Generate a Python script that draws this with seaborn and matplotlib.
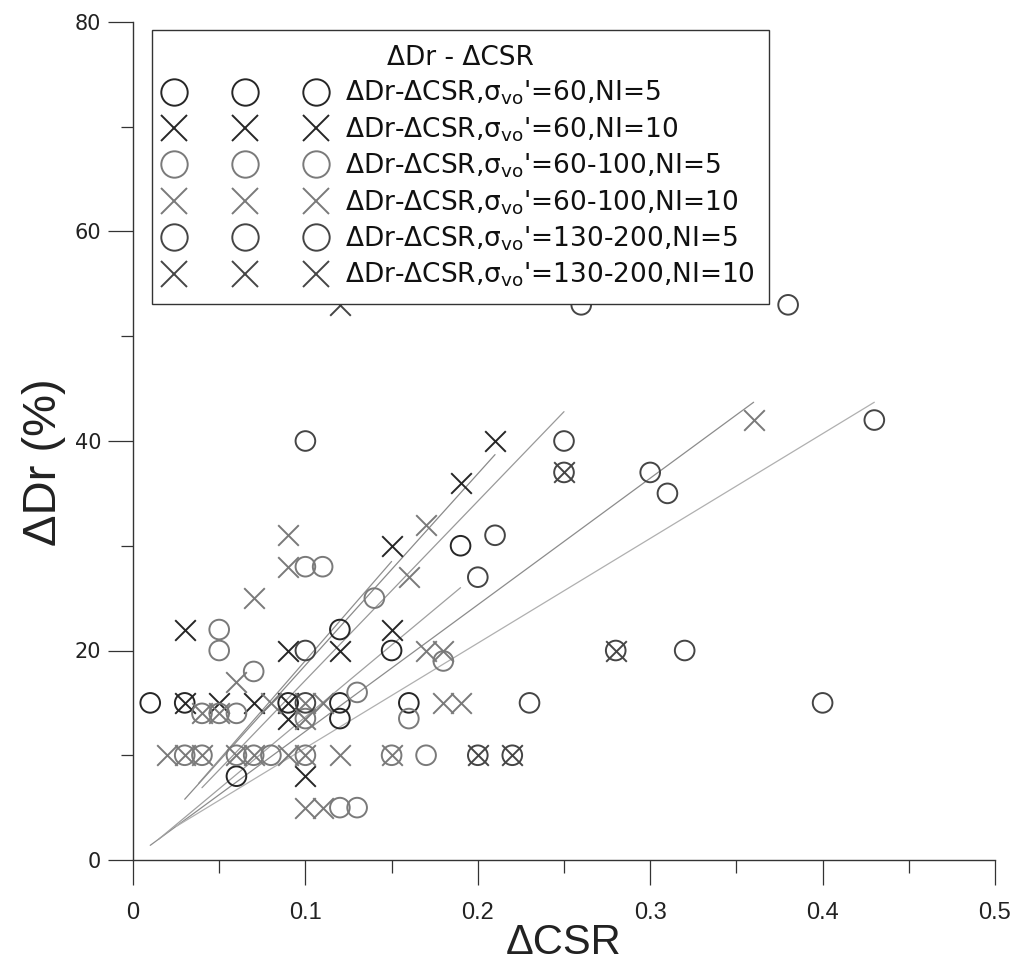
import numpy as np
import pandas as pd
import matplotlib
matplotlib.use("Agg")
import matplotlib.pyplot as plt
import seaborn as sns
from matplotlib.lines import Line2D
from matplotlib.ticker import FixedLocator, FixedFormatter

# ---------------- data ----------------
series_labels = [
    r"ΔDr-ΔCSR,σ$_{\mathrm{vo}}$'=60,NI=5",
    r"ΔDr-ΔCSR,σ$_{\mathrm{vo}}$'=60,NI=10",
    r"ΔDr-ΔCSR,σ$_{\mathrm{vo}}$'=60-100,NI=5",
    r"ΔDr-ΔCSR,σ$_{\mathrm{vo}}$'=60-100,NI=10",
    r"ΔDr-ΔCSR,σ$_{\mathrm{vo}}$'=130-200,NI=5",
    r"ΔDr-ΔCSR,σ$_{\mathrm{vo}}$'=130-200,NI=10",
]
legend_title = "ΔDr - ΔCSR"

s1_x = [0.01, 0.03, 0.09, 0.12, 0.12, 0.12, 0.15, 0.16, 0.19, 0.06]
s1_y = [15, 15, 15, 15, 13.5, 22, 20, 15, 30, 8]

s2_x = [0.03, 0.03, 0.05, 0.07, 0.09, 0.09, 0.09, 0.12, 0.15, 0.15, 0.19, 0.21, 0.10]
s2_y = [22, 15, 15, 15, 15, 13.5, 20, 20, 22, 30, 36, 40, 8]

s3_x = [0.04, 0.05, 0.06, 0.05, 0.05, 0.07, 0.13, 0.14, 0.10, 0.11, 0.16, 0.18,
        0.10, 0.03, 0.04, 0.06, 0.07, 0.08, 0.10, 0.15, 0.17, 0.12, 0.13]
s3_y = [14, 14, 14, 22, 20, 18, 16, 25, 28, 28, 13.5, 19,
        13.5, 10, 10, 10, 10, 10, 10, 10, 10, 5, 5]

s4_x = [0.02, 0.03, 0.04, 0.06, 0.07, 0.09, 0.10, 0.12, 0.15, 0.10, 0.11, 0.04,
        0.05, 0.10, 0.06, 0.07, 0.09, 0.09, 0.08, 0.11, 0.10, 0.17, 0.18, 0.16,
        0.17, 0.18, 0.19, 0.36]
s4_y = [10, 10, 10, 10, 10, 10, 10, 10, 10, 5, 5, 14,
        14, 13.5, 17, 25, 28, 31, 15, 15, 15, 20, 20, 27,
        32, 15, 15, 42]

s5_x = [0.10, 0.10, 0.10, 0.20, 0.21, 0.23, 0.25, 0.25, 0.30, 0.31, 0.28, 0.32,
        0.40, 0.43, 0.26, 0.38, 0.20, 0.22]
s5_y = [15, 20, 40, 27, 31, 15, 40, 37, 37, 35, 20, 20,
        15, 42, 53, 53, 10, 10]

s6_x = [0.12, 0.25, 0.28, 0.20, 0.22]
s6_y = [53, 37, 20, 10, 10]

# regression lines: start / end points
fit_x0 = [0.030, 0.040, 0.038, 0.010, 0.025, 0.015]
fit_y0 = [5.8, 6.9, 7.3, 1.4, 3.2, 2.0]
fit_x1 = [0.210, 0.250, 0.150, 0.360, 0.430, 0.190]
fit_y1 = [38.7, 42.8, 28.5, 43.7, 43.7, 26.0]

x_ticks = [0, 0.1, 0.2, 0.3, 0.4, 0.5]
x_tick_labels = ["0", "0.1", "0.2", "0.3", "0.4", "0.5"]
y_ticks = [0, 20, 40, 60, 80]
y_tick_labels = ["0", "20", "40", "60", "80"]

# ---------------- styling ----------------
sns.set_theme(style="white")
plt.rcParams['font.family'] = ['Liberation Sans', 'DejaVu Sans']
plt.rcParams['mathtext.fontset'] = 'custom'
plt.rcParams['mathtext.rm'] = 'DejaVu Sans'
plt.rcParams['mathtext.it'] = 'DejaVu Sans:italic'
plt.rcParams['mathtext.bf'] = 'DejaVu Sans:bold'

narrow = ['Liberation Sans Narrow', 'Liberation Sans', 'DejaVu Sans']
wide = ['DejaVu Sans']

series_x = [s1_x, s2_x, s3_x, s4_x, s5_x, s6_x]
series_y = [s1_y, s2_y, s3_y, s4_y, s5_y, s6_y]
series_marker = ['o', 'x', 'o', 'x', 'o', 'x']
series_color = ['#262626', '#262626', '#7a7a7a', '#7a7a7a', '#454545', '#454545']
fit_color = ['#8a8a8a', '#999999', '#8f8f8f', '#8c8c8c', '#b0b0b0', '#a0a0a0']

frames = []
for lab, xs, ys in zip(series_labels, series_x, series_y):
    frames.append(pd.DataFrame({"dcsr": xs, "ddr": ys, "series": lab}))
df = pd.concat(frames, ignore_index=True)

fig = plt.figure(figsize=(10.12, 9.69), dpi=100)
ax = fig.add_axes([133 / 1012, 1 - 860 / 969, 862 / 1012, 838 / 969])

# regression lines
for x0, y0, x1, y1, c in zip(fit_x0, fit_y0, fit_x1, fit_y1, fit_color):
    ax.plot([x0, x1], [y0, y1], color=c, lw=0.9, zorder=2)

# points
for lab, m, c in zip(series_labels, series_marker, series_color):
    sub = df[df["series"] == lab]
    if m == 'o':
        sns.scatterplot(data=sub, x="dcsr", y="ddr", ax=ax, marker='o', s=200,
                        facecolors='none', edgecolor=c, linewidth=1.4,
                        zorder=3, legend=False)
    else:
        sns.scatterplot(data=sub, x="dcsr", y="ddr", ax=ax, marker='x', s=220,
                        color=c, linewidth=1.4, zorder=3, legend=False)

ax.set_xlim(0, 0.5)
ax.set_ylim(0, 80)

for side in ['top', 'right']:
    ax.spines[side].set_visible(False)
for side in ['left', 'bottom']:
    ax.spines[side].set_color('#333333')
    ax.spines[side].set_linewidth(1.0)

ax.xaxis.set_major_locator(FixedLocator(x_ticks))
ax.xaxis.set_major_formatter(FixedFormatter(x_tick_labels))
ax.xaxis.set_minor_locator(FixedLocator([0.05, 0.15, 0.25, 0.35, 0.45]))
ax.yaxis.set_major_locator(FixedLocator(y_ticks))
ax.yaxis.set_major_formatter(FixedFormatter(y_tick_labels))
ax.yaxis.set_minor_locator(FixedLocator([10, 30, 50, 70]))

ax.tick_params(axis='both', which='major', direction='out', length=18, width=0.9,
               color='#333333', bottom=True, left=True)
ax.tick_params(axis='both', which='minor', direction='out', length=9, width=0.9,
               color='#333333', bottom=True, left=True)
ax.tick_params(axis='x', which='major', pad=12, labelsize=17, labelcolor='#222222')
ax.tick_params(axis='y', which='major', pad=5, labelsize=15, labelcolor='#222222')
for t in ax.get_xticklabels():
    t.set_family(narrow)
for t in ax.get_yticklabels():
    t.set_family(wide)

ax.set_xlabel("ΔCSR", fontsize=30, family=narrow, color='#222222')
ax.set_ylabel("ΔDr (%)", fontsize=34, family=narrow, color='#222222')
ax.xaxis.set_label_coords(0.5, -0.075)
ax.yaxis.set_label_coords(-0.078, 0.475)

# legend
handles = []
for lab, m, c in zip(series_labels, series_marker, series_color):
    if m == 'o':
        h = Line2D([], [], linestyle='none', marker='o', markersize=19,
                   markerfacecolor='none', markeredgecolor=c, markeredgewidth=1.4)
    else:
        h = Line2D([], [], linestyle='none', marker='x', markersize=19,
                   color=c, markeredgewidth=1.4)
    handles.append(h)

leg = ax.legend(handles=handles, labels=series_labels, title=legend_title,
                loc='upper left', bbox_to_anchor=(0.022, 0.990), borderaxespad=0,
                numpoints=3, handlelength=5.95, handletextpad=0.8,
                labelspacing=0.3, borderpad=0.55,
                prop={'family': wide, 'size': 19},
                title_fontproperties={'family': wide, 'size': 19},
                frameon=True, fancybox=False, edgecolor='#333333', framealpha=1)
leg.get_frame().set_linewidth(1.0)
leg.set_zorder(5)
for t in leg.get_texts():
    t.set_color('#111111')
leg.get_title().set_color('#111111')

fig.savefig("out.png", dpi=100, facecolor='white')
